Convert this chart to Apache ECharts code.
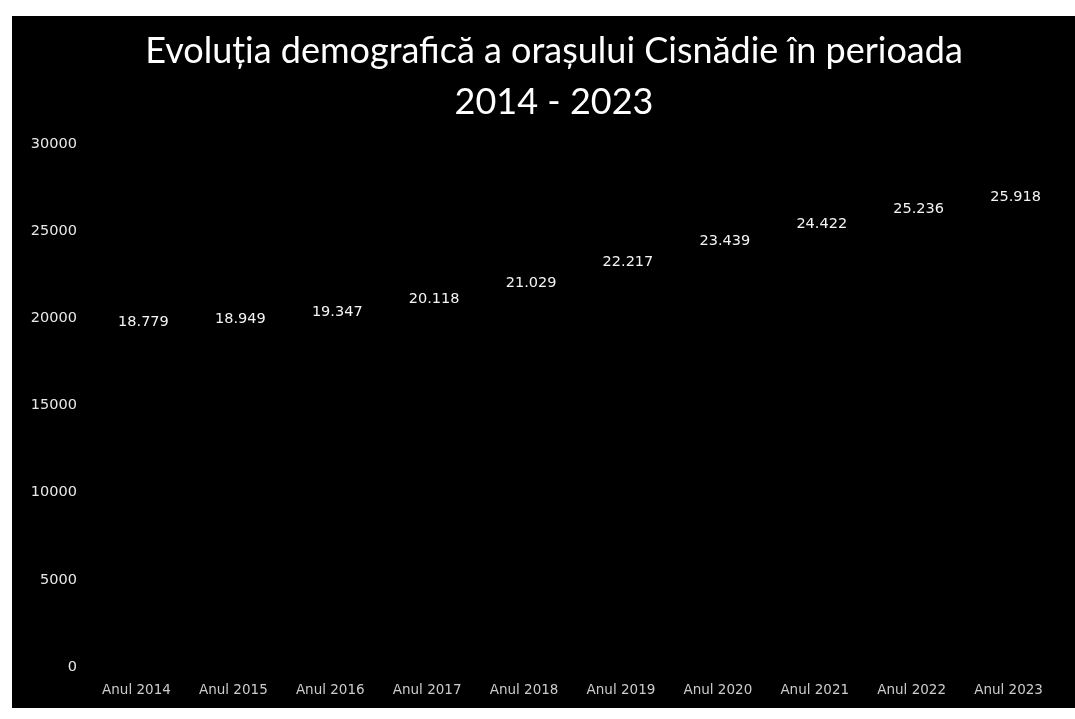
<!DOCTYPE html>
<html>
<head>
<meta charset="utf-8">
<script src="https://cdn.jsdelivr.net/npm/echarts@6/dist/echarts.min.js"></script>
<style>
  html, body { margin: 0; padding: 0; background: #fff; width: 1075px; height: 719px; overflow: hidden; }
  #chart { position: absolute; left: 12px; top: 16px; width: 1063px; height: 692px; background: #000; }
</style>
</head>
<body>
<div id="chart"></div>
<script>
    // date pe ani
    var years = ['Anul 2014', 'Anul 2015', 'Anul 2016', 'Anul 2017', 'Anul 2018',
                 'Anul 2019', 'Anul 2020', 'Anul 2021', 'Anul 2022', 'Anul 2023'];
    var population = [18779, 18949, 19347, 20118, 21029, 22217, 23439, 24422, 25236, 25918];
    var yTicks = [0, 5000, 10000, 15000, 20000, 25000, 30000];

    // 18779 -> "18.779"
    function fmt(v) {
        var s = String(v % 1000);
        while (s.length < 3) s = '0' + s;
        return Math.floor(v / 1000) + '.' + s;
    }

    var chart = echarts.init(document.getElementById('chart'));
    var option = {
        backgroundColor: '#000',
        animation: false,
        title: {
            text: 'Evoluția demografică a orașului Cisnădie în perioada\n2014 - 2023',
            left: 542,
            top: 10,
            textAlign: 'center',
            padding: 0,
            textStyle: {
                color: '#fff',
                fontSize: 36,
                fontWeight: 'normal',
                lineHeight: 51,
                fontFamily: 'Lato'
            }
        },
        grid: {
            left: 76,
            right: 18,
            top: 128,
            bottom: 41,
            containLabel: false
        },
        xAxis: [{
            type: 'category',
            data: years,
            axisLine: { show: false },
            axisTick: { show: false },
            axisLabel: { color: '#ccc', fontSize: 13.5, fontFamily: 'DejaVu Sans', margin: 16 }
        }],
        yAxis: [{
            type: 'value',
            min: yTicks[0],
            max: yTicks[yTicks.length - 1],
            interval: 5000,
            splitLine: { show: false },
            axisLine: { show: false },
            axisLabel: {
                color: '#e8e8e8',
                fontSize: 14.5,
                fontFamily: 'DejaVu Sans',
                margin: 11,
                formatter: function (v) { return String(v); }
            }
        }],
        series: [{
            name: 'Populatie',
            type: 'bar',
            barWidth: '60%',
            data: population,
            itemStyle: { color: '#000' },
            label: {
                show: true,
                position: 'top',
                distance: 10,
                offset: [7, 0],
                color: '#f4f4f4',
                fontSize: 14.5,
                fontFamily: 'DejaVu Sans',
                formatter: function (p) { return fmt(p.value); }
            }
        }]
    };
    chart.setOption(option);
</script>
</body>
</html>
